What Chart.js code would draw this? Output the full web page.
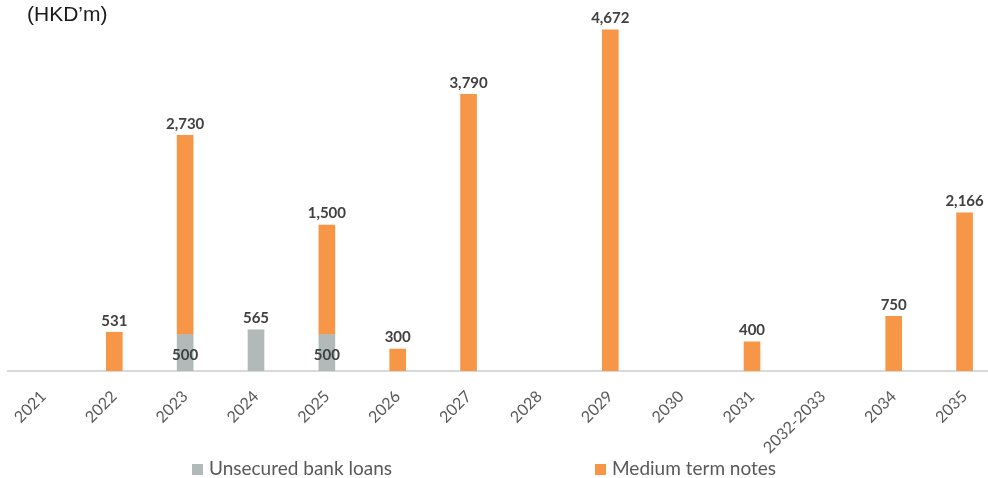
<!DOCTYPE html>
<html>
<head>
<meta charset="utf-8">
<script src="https://cdn.jsdelivr.net/npm/chart.js@4.4.1/dist/chart.umd.min.js"></script>
<style>
  html, body { margin: 0; padding: 0; background: #fff; overflow: hidden; }
  #wrap { position: relative; width: 1000px; height: 478px; }
  #unit { position: absolute; left: 27px; top: 2px; font: 21px "Liberation Sans", Arial, sans-serif; color: #1a1a1a; }
  .lg { position: absolute; top: 456px; font: 19px Lato, sans-serif; color: #595959; white-space: nowrap; }
  .lg i { display: inline-block; width: 11px; height: 11px; margin-right: 6px; vertical-align: 0px; }
</style>
</head>
<body>
<div id="wrap">
  <canvas id="debtChart"></canvas>
  <div id="unit">(HKD’m)</div>
  <div class="lg" style="left:192px"><i style="background:#b1b9b9"></i>Unsecured bank loans</div>
  <div class="lg" style="left:595px"><i style="background:#f79646"></i>Medium term notes</div>
</div>
<script>
var categories = ['2021', '2022', '2023', '2024', '2025', '2026', '2027', '2028', '2029', '2030', '2031', '2032-2033', '2034', '2035'];
var bankLoans = [null, null, 500, 565, 500, null, null, null, null, null, null, null, null, null];
var mtNotes = [null, 531, 2730, null, 1500, 300, 3790, null, 4672, null, 400, null, 750, 2166];

// value labels: grey ones sit inside the base when an orange bar is stacked on top
var valueLabels = {
  id: 'valueLabels',
  afterDatasetsDraw: function (chart) {
    var ctx = chart.ctx;
    ctx.save();
    ctx.font = 'bold 15px Lato, sans-serif';
    ctx.fillStyle = '#404040';
    ctx.textAlign = 'center';
    chart.data.datasets.forEach(function (ds, di) {
      var meta = chart.getDatasetMeta(di);
      meta.data.forEach(function (bar, i) {
        var v = ds.data[i];
        if (!v) return;
        var text = v.toLocaleString('en-US');
        if (di === 0 && mtNotes[i]) {
          ctx.textBaseline = 'middle';
          ctx.fillText(text, bar.x, bar.base - 16);
        } else {
          ctx.textBaseline = 'bottom';
          ctx.fillText(text, bar.x, bar.y - 4);
        }
      });
    });
    ctx.restore();
  }
};

new Chart(document.getElementById('debtChart'), {
  type: 'bar',
  data: {
    labels: categories,
    datasets: [
      { label: 'Unsecured bank loans', data: bankLoans, backgroundColor: '#b1b9b9', barThickness: 16 },
      { label: 'Medium term notes', data: mtNotes, backgroundColor: '#f79646', barThickness: 16 }
    ]
  },
  options: {
    responsive: true,
    maintainAspectRatio: false,
    animation: false,
    layout: { padding: { left: 8, right: 0, top: 6, bottom: 0 } },
    plugins: { legend: { display: false }, tooltip: { enabled: false } },
    scales: {
      x: {
        stacked: true,
        grid: { display: false },
        border: { display: true, color: '#d9d9d9', width: 2 },
        ticks: {
          color: '#595959',
          font: { family: 'Lato, sans-serif', size: 16 },
          minRotation: 45,
          maxRotation: 45,
          autoSkip: false,
          padding: 8
        },
        afterFit: function (scale) { scale.height = 107; }
      },
      y: { stacked: true, display: false, min: 0, max: 5000 }
    }
  },
  plugins: [valueLabels]
});
</script>
</body>
</html>
